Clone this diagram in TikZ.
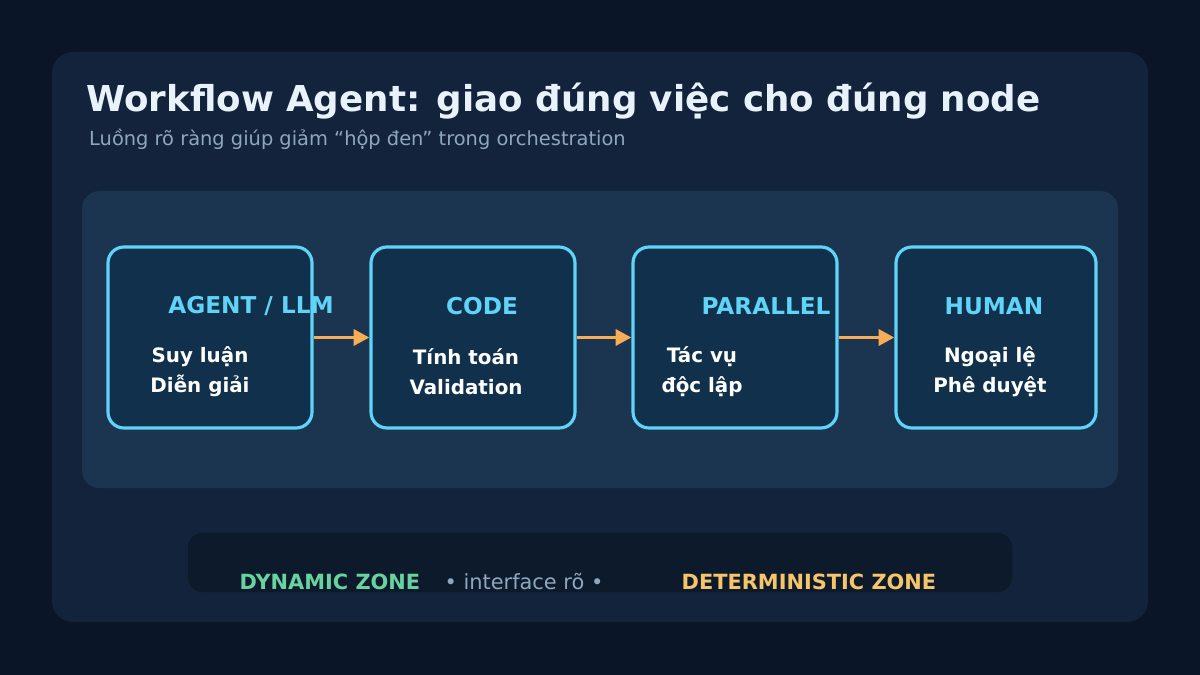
\documentclass[tikz,border=0pt]{standalone}
\usepackage{fontspec}
\setmainfont{DejaVu Sans}
\usetikzlibrary{arrows.meta}
\definecolor{pagebg}{HTML}{0A1628}
\definecolor{cardbg}{HTML}{13233C}
\definecolor{panelbg}{HTML}{1B3550}
\definecolor{boxbg}{HTML}{10304B}
\definecolor{cyanline}{HTML}{5FD3F8}
\definecolor{flow}{HTML}{F6AD55}
\definecolor{titletext}{HTML}{E8F2FB}
\definecolor{subtext}{HTML}{8FA6BF}
\definecolor{barbg}{HTML}{0D1A2B}
\definecolor{dyn}{HTML}{68D39F}
\definecolor{det}{HTML}{F6C56A}
\begin{document}
\begin{tikzpicture}[x=0.02cm, y=-0.02cm,
    stage/.style={draw=cyanline, line width=1.8pt, fill=boxbg, rounded corners=9pt, minimum width=4.08cm, minimum height=3.62cm},
    stagetitle/.style={text=cyanline, font=\bfseries\fontsize{13.2}{16}\selectfont},
    stagebody/.style={text=white, font=\bfseries\fontsize{11.3}{17}\selectfont, align=center},
    arrow/.style={-{Triangle[length=9pt,width=9pt]}, draw=flow, line width=2.2pt},
    zone/.style={font=\bfseries\fontsize{11.9}{14}\selectfont}
]
\useasboundingbox[fill=pagebg] (0,0) rectangle (1200,675);

% Card and panel
\fill[cardbg, rounded corners=12pt] (52,52) rectangle (1148,622);
\fill[panelbg, rounded corners=10pt] (82,191) rectangle (1118,488);

% Title
\node[anchor=base west, text=titletext, font=\bfseries\fontsize{20.3}{24}\selectfont] (title) at (80,112) {Workflow Agent: giao đúng việc cho đúng node};
\node[anchor=base west, text=subtext, font=\fontsize{11.05}{13}\selectfont] (subtitle) at (83,146) {Luồng rõ ràng giúp giảm “hộp đen” trong orchestration};

% Stages
\node[stage] (agent) at (210,337.5) {};
\node[stage] (code) at (473,337.5) {};
\node[stage] (parallel) at (735,337.5) {};
\node[stage, minimum width=4cm] (human) at (996,337.5) {};

\node[stagetitle] (agentT) at (251,306) {AGENT / LLM};
\node[stagetitle] (codeT) at (482,306) {CODE};
\node[stagetitle] (parallelT) at (766,306) {PARALLEL};
\node[stagetitle] (humanT) at (994,306) {HUMAN};

\node[stagebody] (agentB) at (200,372) {Suy luận\\Diễn giải};
\node[stagebody] (codeB) at (466,372) {Tính toán\\Validation};
\node[stagebody] (parallelB) at (702,372) {Tác vụ\\độc lập};
\node[stagebody] (humanB) at (990,372) {Ngoại lệ\\Phê duyệt};

% Arrows
\draw[arrow] (agent.east) -- (code.west);
\draw[arrow] (code.east) -- (parallel.west);
\draw[arrow] (parallel.east) -- (human.west);

% Zone bar
\fill[barbg, rounded corners=8pt] (188,533) rectangle (1012,592);
\node[zone, text=dyn, anchor=base] (dynamic) at (330,589) {DYNAMIC ZONE};
\node[text=subtext, anchor=base, font=\fontsize{11.9}{14}\selectfont] (iface) at (524,589) {• interface rõ •};
\node[zone, text=det, anchor=base] (determ) at (809,589) {DETERMINISTIC ZONE};
\end{tikzpicture}
\end{document}
